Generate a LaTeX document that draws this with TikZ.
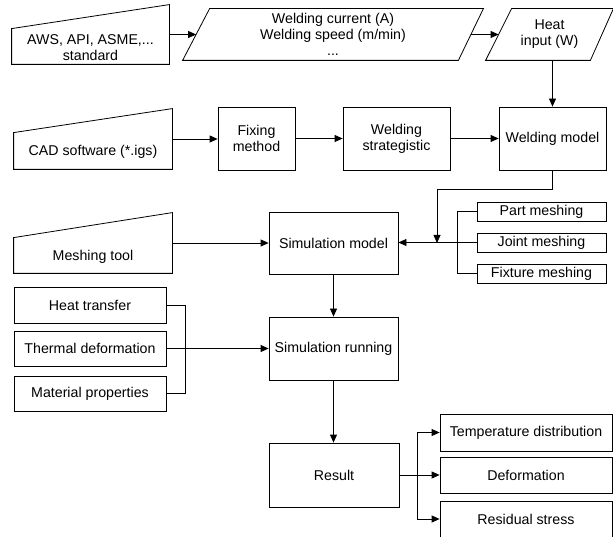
\documentclass[tikz,border=0pt]{standalone}
\usepackage{fontspec}
\setmainfont{Liberation Sans}
\usetikzlibrary{arrows.meta,calc}
\begin{document}
\begin{tikzpicture}[x=1pt,y=-1pt,
  font=\fontsize{14.2}{16}\selectfont,
  line width=0.8pt,
  box/.style={draw, inner sep=0pt, align=center},
  ghost/.style={inner sep=0pt, align=center},
  arr/.style={-{Triangle[length=8pt,width=7pt]}}]
\useasboundingbox (0,0) rectangle (613,537);

% manual input shapes
\node[ghost, minimum width=157pt, minimum height=59pt] (aws) at (90.5,34.5) {};
\draw ([yshift=-24pt]aws.north west) -- (aws.north east) -- (aws.south east) -- (aws.south west) -- cycle;
\node[ghost] (awst) at (90.5,47.5) {AWS, API, ASME,...\\standard};

\node[ghost, minimum width=158pt, minimum height=60pt] (cad) at (93,139) {};
\draw ([yshift=-24pt]cad.north west) -- (cad.north east) -- (cad.south east) -- (cad.south west) -- cycle;
\node[ghost] (cadt) at (93,152) {CAD software (*.igs)};

\node[ghost, minimum width=158pt, minimum height=60pt] (meshtool) at (93,243) {};
\draw ([yshift=-25pt]meshtool.north west) -- (meshtool.north east) -- (meshtool.south east) -- (meshtool.south west) -- cycle;
\node[ghost] (mesht) at (93,257) {Meshing tool};

% parallelograms
\node[ghost, minimum width=300pt, minimum height=51pt] (wparams) at (333,34.5) {Welding current (A)\\Welding speed (m/min)\\...};
\draw (wparams.south west) -- ([xshift=27pt]wparams.north west) -- (wparams.north east) -- ([xshift=-25pt]wparams.south east) -- cycle;

\node[ghost, minimum width=127pt, minimum height=51pt] (heat) at (549.5,34.5) {Heat\\input (W)};
\draw (heat.south west) -- ([xshift=26pt]heat.north west) -- (heat.north east) -- ([xshift=-23pt]heat.south east) -- cycle;

% boxes
\node[box, minimum width=77pt, minimum height=63pt] (fixing) at (256.5,138.5) {Fixing\\method};
\node[box, minimum width=107pt, minimum height=63pt] (strat) at (396.5,138.5) {Welding\\strategistic};
\node[box, minimum width=107pt, minimum height=63pt] (wmodel) at (552.5,138.5) {Welding model};
\node[box, minimum width=129pt, minimum height=62pt] (simmodel) at (333.5,243) {Simulation model};
\node[box, minimum width=129pt, minimum height=19pt] (part) at (541.5,211.5) {Part meshing};
\node[box, minimum width=129pt, minimum height=19pt] (joint) at (541.5,242.5) {Joint meshing};
\node[box, minimum width=129pt, minimum height=19pt] (fixture) at (541.5,273.5) {Fixture meshing};
\node[box, minimum width=152pt, minimum height=36pt] (heattr) at (90,305) {Heat transfer};
\node[box, minimum width=152pt, minimum height=35pt] (thermal) at (90,348.5) {Thermal deformation};
\node[box, minimum width=152pt, minimum height=35pt] (material) at (90,393.5) {Material properties};
\node[box, minimum width=129pt, minimum height=63pt] (simrun) at (333.5,348.5) {Simulation running};
\node[box, minimum width=130pt, minimum height=64pt] (result) at (334,475) {Result};
\node[box, minimum width=172pt, minimum height=37pt] (temp) at (526,432.5) {Temperature distribution};
\node[box, minimum width=172pt, minimum height=36pt] (deform) at (526,475) {Deformation};
\node[box, minimum width=172pt, minimum height=36pt] (resid) at (526,519) {Residual stress};

% connectors
\draw[arr] (aws.east) -- ([xshift=13.5pt]wparams.west);
\draw[arr] ([xshift=-12.5pt]wparams.east) -- ([xshift=13pt]heat.west);
\draw[arr] (heat.south -| wmodel.north) -- (wmodel.north);
\draw[arr] (cad.east) -- (cad.east -| fixing.west);
\draw[arr] (fixing.east) -- (strat.west);
\draw[arr] (strat.east) -- (wmodel.west);
\coordinate (mj) at (437,243);
\draw[arr] (wmodel.south) -- ++(0,19) -| (mj);
\draw[arr] (joint.west) -- (joint.west -| simmodel.east);
\draw (part.west) -- ++(-19,0) |- (fixture.west);
\draw[arr] (meshtool.east) -- (simmodel.west);
\draw[arr] (simmodel.south) -- (simrun.north);
\draw (heattr.east) -- ++(19,0) |- (material.east);
\draw[arr] (thermal.east) -- (simrun.west);
\draw[arr] (simrun.south) -- (simrun.south |- result.north);
\draw[arr] (result.east) -- ++(18,0) |- (temp.west);
\draw[arr] (result.east) -- ++(18,0) |- (resid.west);
\draw[arr] (result.east) -- (deform.west);
\end{tikzpicture}
\end{document}
